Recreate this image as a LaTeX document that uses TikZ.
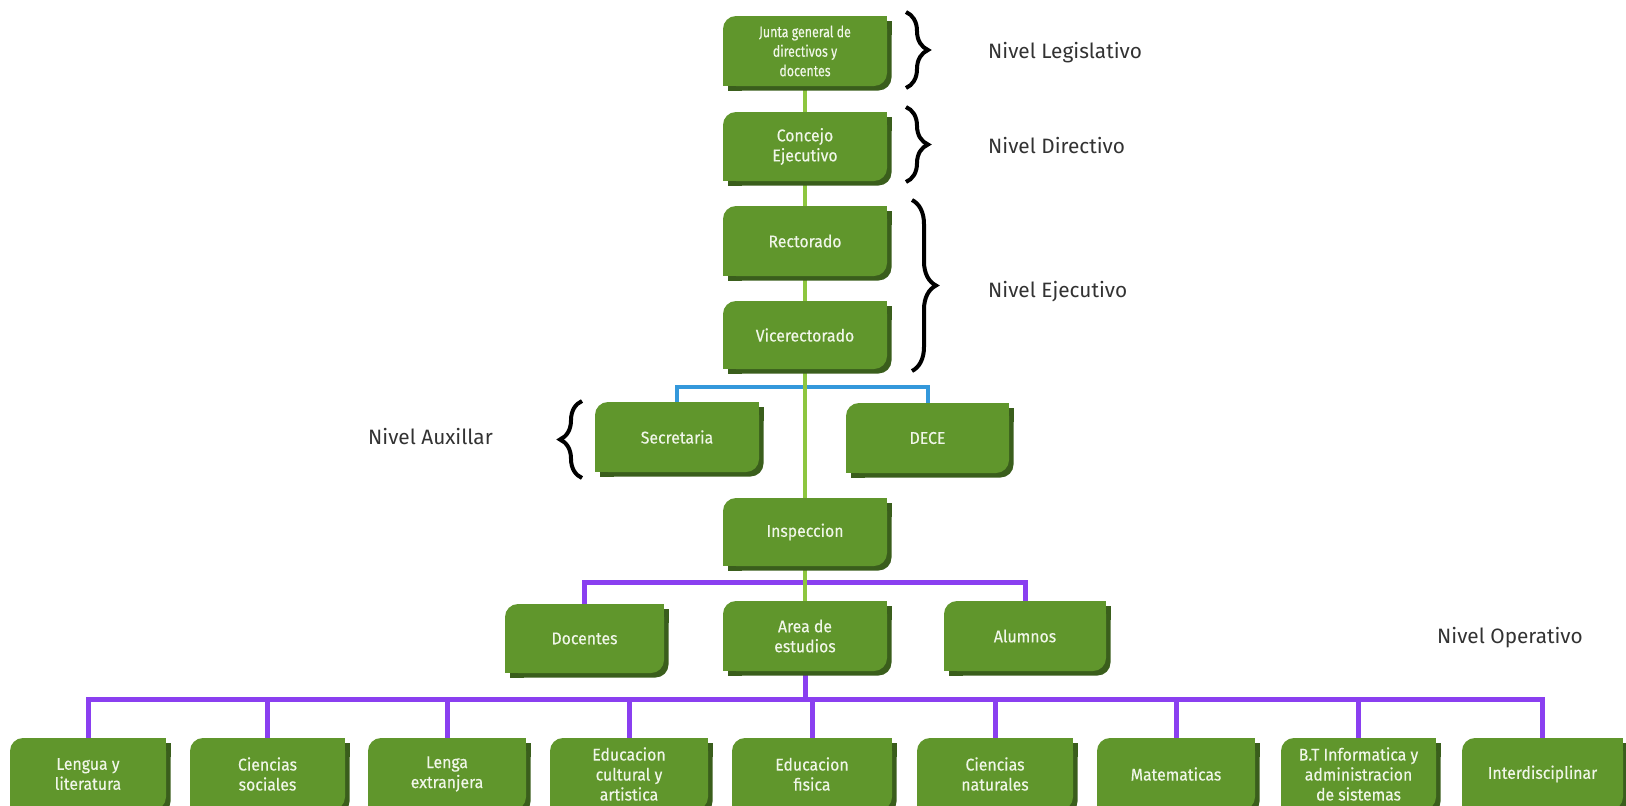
\documentclass[tikz,border=0pt]{standalone}
\usepackage{fontspec}
\setmainfont{Fira Sans}
\newfontfamily\boxfont[FakeStretch=0.93,FakeBold=0.3]{Fira Sans}
\newfontfamily\juntafont[FakeStretch=0.8,FakeBold=0.3]{Fira Sans}
\usetikzlibrary{decorations.pathreplacing}
\definecolor{boxgreen}{RGB}{96,150,44}
\definecolor{shadowgreen}{RGB}{58,94,28}
\definecolor{linegreen}{RGB}{141,198,63}
\definecolor{lineblue}{RGB}{52,152,219}
\definecolor{linepurple}{RGB}{138,63,240}
\definecolor{labelgray}{RGB}{50,50,50}
\pgfdeclarelayer{bg}
\pgfsetlayers{bg,main}
\newcommand{\gshape}[5]{%
  \fill[#1,rounded corners=13pt] (#2,#3) rectangle (#4,#5);
  \fill[#1] (#4-14,#3) rectangle (#4,#3+14);
  \fill[#1] (#2,#5-14) rectangle (#2+14,#5);
}
\newcommand{\gbox}[7][]{%
  \gshape{shadowgreen}{#3+4.5}{#4+4.5}{#5+4.5}{#6+4.5}
  \gshape{boxgreen}{#3}{#4}{#5}{#6}
  \node[boxtext, #1, minimum width={(#5-#3)*1pt}, minimum height={(#6-#4)*1pt}] (#2) at ({(#3+#5)/2},{(#4+#6)/2}) {#7};
}
\tikzset{
  boxtext/.style={inner sep=0pt, align=center, text={rgb,255:red,240;green,246;blue,232}, font=\boxfont\fontsize{17}{20}\selectfont},
  smalltext/.style={font=\juntafont\fontsize{15.5}{19.5}\selectfont},
  levellabel/.style={anchor=west, inner sep=0pt, text=labelgray, font=\fontsize{20.8}{24}\selectfont},
  bracestyle/.style={draw=black, line width=4pt, decorate, decoration={brace, amplitude=#1, aspect=0.5}},
  gline/.style={draw=linegreen, line width=4pt},
  bline/.style={draw=lineblue, line width=4pt},
  pline/.style={draw=linepurple, line width=5pt},
}
\begin{document}
\begin{tikzpicture}[x=1pt,y=-1pt]
\useasboundingbox (0,0) rectangle (1626,806);
\clip (0,0) rectangle (1626,806);
% boxes
\gbox[smalltext]{junta}{723}{16}{887}{86}{Junta general de\\directivos y\\docentes}
\gbox{concejo}{723}{112}{887}{181}{Concejo\\Ejecutivo}
\gbox{rector}{723}{206}{887}{276}{Rectorado}
\gbox{vice}{723}{301}{887}{369}{Vicerectorado}
\gbox{secr}{595}{402}{759}{472}{Secretaria}
\gbox{dece}{846}{403}{1009}{473}{DECE}
\gbox{insp}{723}{498}{887}{566}{Inspeccion}
\gbox{doc}{505}{604}{664}{673}{Docentes}
\gbox{area}{723}{601}{887}{671}{Area de\\estudios}
\gbox{alu}{944}{601}{1106}{671}{Alumnos}
\gbox{b1}{10}{738}{166}{810}{Lengua y\\literatura}
\gbox{b2}{190}{738}{345}{810}{Ciencias\\sociales}
\gbox{b3}{368}{738}{526}{810}{Lenga\\extranjera}
\gbox{b4}{550}{738}{708}{810}{Educacion\\cultural y\\artistica}
\gbox{b5}{732}{738}{892}{810}{Educacion\\fisica}
\gbox{b6}{917}{738}{1073}{810}{Ciencias\\naturales}
\gbox{b7}{1097}{738}{1255}{810}{Matematicas}
\gbox{b8}{1281}{738}{1436}{810}{B.T Informatica y\\administracion\\de sistemas}
\gbox{b9}{1462}{738}{1623}{810}{Interdisciplinar}
% connectors
\coordinate (bj) at (805,387);
\coordinate (pj) at (805,582);
\coordinate (lj) at (805,699);
\begin{pgfonlayer}{bg}
  \draw[pline] (doc.north) |- (pj) -| (alu.north);
  \draw[pline] (area.south) -- (lj);
  \draw[pline] (b1.north) |- (lj) -| (b9.north);
  \foreach \b in {b2,b3,b4,b5,b6,b7,b8} \draw[pline] (\b.north) -- (\b.north |- lj);
  \draw[bline] (secr.north) |- (bj) -| (dece.north);
  \draw[gline] (junta.south) -- (concejo.north);
  \draw[gline] (concejo.south) -- (rector.north);
  \draw[gline] (rector.south) -- (vice.north);
  \draw[gline] (vice.south) -- (insp.north);
  \draw[gline] (insp.south) -- (area.north);
\end{pgfonlayer}
% braces
\coordinate (br1a) at (906,12);  \coordinate (br1b) at (906,88);
\coordinate (br2a) at (906,107); \coordinate (br2b) at (906,182);
\coordinate (br3a) at (912,200); \coordinate (br3b) at (912,371);
\coordinate (br4a) at (582,478); \coordinate (br4b) at (582,401);
\draw[bracestyle=22pt] (br1a) -- (br1b);
\draw[bracestyle=22pt] (br2a) -- (br2b);
\draw[bracestyle=24pt] (br3a) -- (br3b);
\draw[bracestyle=22pt] (br4a) -- (br4b);
% labels
\node[levellabel] (lleg) at (988,53) {Nivel Legislativo};
\node[levellabel] (ldir) at (988,146) {Nivel Directivo};
\node[levellabel] (leje) at (988,292) {Nivel Ejecutivo};
\node[levellabel] (laux) at (368,437) {Nivel Auxillar};
\node[levellabel] (lope) at (1437,638) {Nivel Operativo};
\end{tikzpicture}
\end{document}
